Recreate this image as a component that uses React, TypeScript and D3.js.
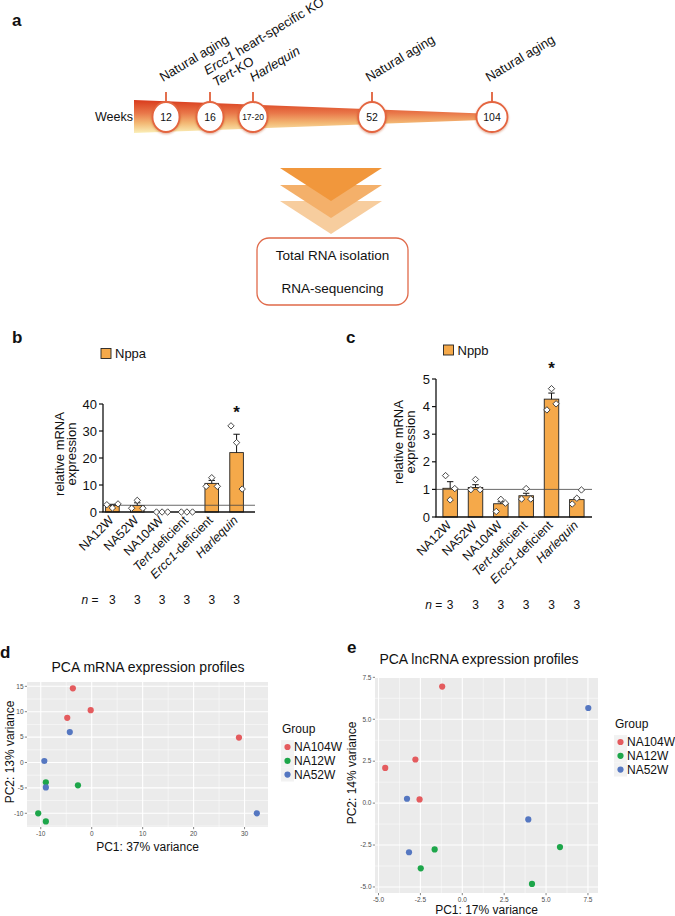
import React from 'react';
import * as d3 from 'd3';

const FONT = "'Liberation Sans', Arial, Helvetica, sans-serif";

// ---------------- Panel a (timeline schematic) ----------------
const weekLabels = ['12', '16', '17-20', '52', '104'];
// each annotation line: [italic part, roman part]
const eventLines: [string, string][][] = [
  [['', 'Natural aging']],
  [['Ercc1', ' heart-specific KO'], ['Tert', '-KO']],
  [['Harlequin', '']],
  [['', 'Natural aging']],
  [['', 'Natural aging']],
];
const workflowSteps = ['Total RNA isolation', 'RNA-sequencing'];

// ---------------- Panels b, c (bar charts) ----------------
const barCategories = ['NA12W', 'NA52W', 'NA104W', 'Tert-deficient', 'Ercc1-deficient', 'Harlequin'];
const italicNames = ['Tert', 'Ercc1', 'Harlequin'];
const sampleSizes = [3, 3, 3, 3, 3, 3];

const nppaMeans = [2.4, 2.4, 0, 0, 10.6, 22.0];
const nppaSems = [0.45, 1.0, 0, 0, 1.1, 6.8];
const nppaPoints = [
  [2.7, 1.5, 3.0],
  [1.4, 4.3, 1.4],
  [0, 0, 0],
  [0, 0, 0],
  [9.5, 12.7, 9.5],
  [31.9, 25.7, 8.5],
];
const nppaTicks = [0, 10, 20, 30, 40];
const nppaRef = 2.5;

const nppbMeans = [1.04, 1.07, 0.48, 0.77, 4.27, 0.63];
const nppbSems = [0.24, 0.1, 0.07, 0.09, 0.22, 0.06];
const nppbPoints = [
  [1.5, 0.62, 1.03],
  [0.99, 1.36, 0.99],
  [0.2, 0.64, 0.5],
  [0.65, 1.03, 0.65],
  [3.88, 4.65, 4.1],
  [0.47, 0.68, 0.98],
];
const nppbTicks = [0, 1, 2, 3, 4, 5];
const nppbRef = 1.0;

// ---------------- Panels d, e (PCA) ----------------
const groups = ['NA104W', 'NA12W', 'NA52W'];
const groupColors = ['#E45B5E', '#1DA64A', '#5577C1'];

const mrnaNA104W = [[-3.7, 14.6], [-4.8, 8.8], [-0.2, 10.3], [28.9, 4.9]];
const mrnaNA12W = [[-9.0, -3.9], [-2.7, -4.5], [-10.5, -10.0], [-9.0, -11.6]];
const mrnaNA52W = [[-4.3, 6.0], [-9.3, 0.3], [-9.0, -4.9], [32.4, -10.0]];
const mrnaXTicks = [-10, 0, 10, 20, 30];
const mrnaYTicks = [-10, -5, 0, 5, 10, 15];

const lncNA104W = [[-1.2, 6.95], [-2.8, 2.6], [-4.6, 2.1], [-2.55, 0.22]];
const lncNA12W = [[-1.65, -2.76], [-2.48, -3.89], [5.83, -2.62], [4.16, -4.82]];
const lncNA52W = [[7.52, 5.67], [-3.3, 0.26], [-3.18, -2.93], [3.94, -0.97]];
const lncXTicks = [-5, -2.5, 0, 2.5, 5, 7.5];
const lncYTicks = [-5, -2.5, 0, 2.5, 5, 7.5];

const BAR_FILL = '#F5A94A';

function CatLabel({ name }: { name: string }) {
  const it = italicNames.find((p) => name.startsWith(p));
  if (!it) return <>{name}</>;
  return (
    <>
      <tspan fontStyle="italic">{it}</tspan>
      {name.slice(it.length)}
    </>
  );
}

type BarProps = {
  means: number[]; sems: number[]; pts: number[][]; ticks: number[]; refValue: number;
  legend: string; axisX: number; axisEnd: number; y0: number; yTop: number;
  bandStart: number; bandEnd: number; barW: number; jitter: number;
  legendX: number; legendY: number; starIndex: number; starY: number;
  nGap: number; nY: number; ylabX1: number; ylabX2: number; ylabY: number;
};

function BarChart(p: BarProps) {
  const x = d3.scalePoint<string>().domain(barCategories).range([p.bandStart, p.bandEnd]).padding(0.5);
  const yMax = p.ticks[p.ticks.length - 1];
  const y = d3.scaleLinear().domain([0, yMax]).range([p.y0, p.yTop]);
  const offs = [-p.jitter, 0, p.jitter];
  const r = 3.2;
  const diamond = (cx: number, cy: number) =>
    `M${cx},${cy - r}L${cx + r},${cy}L${cx},${cy + r}L${cx - r},${cy}Z`;
  return (
    <g fontFamily={FONT}>
      {/* legend */}
      <rect x={p.legendX} y={p.legendY} width={10} height={10} fill={BAR_FILL} stroke="#222" strokeWidth={0.9} />
      <text x={p.legendX + 14} y={p.legendY + 9.5} fontSize={13} fill="#111">{p.legend}</text>
      {/* y label */}
      <text transform={`translate(${p.ylabX1},${p.ylabY}) rotate(-90)`} textAnchor="middle" fontSize={13} fill="#111">relative mRNA</text>
      <text transform={`translate(${p.ylabX2},${p.ylabY}) rotate(-90)`} textAnchor="middle" fontSize={13} fill="#111">expression</text>
      {/* bars */}
      {barCategories.map((c, i) => {
        const cx = x(c)!;
        const m = p.means[i];
        if (m <= 0) return null;
        return (
          <rect key={c} x={cx - p.barW / 2} y={y(m)} width={p.barW} height={p.y0 - y(m)}
            fill={BAR_FILL} stroke="#222" strokeWidth={0.9} />
        );
      })}
      {/* error bars */}
      {barCategories.map((c, i) => {
        const cx = x(c)!;
        const m = p.means[i];
        const s = p.sems[i];
        if (s <= 0) return null;
        return (
          <g key={c} stroke="#111" strokeWidth={1}>
            <line x1={cx} x2={cx} y1={y(m)} y2={y(m + s)} />
            <line x1={cx - 3.2} x2={cx + 3.2} y1={y(m + s)} y2={y(m + s)} />
          </g>
        );
      })}
      {/* reference line */}
      <line x1={p.axisX} x2={p.axisEnd} y1={y(p.refValue)} y2={y(p.refValue)} stroke="#444" strokeWidth={0.8} />
      {/* axes */}
      <line x1={p.axisX} x2={p.axisX} y1={p.yTop} y2={p.y0} stroke="#111" strokeWidth={1.3} />
      <line x1={p.axisX - 0.6} x2={p.axisEnd} y1={p.y0} y2={p.y0} stroke="#111" strokeWidth={1.5} />
      {p.ticks.map((t) => (
        <g key={t}>
          <line x1={p.axisX - 4} x2={p.axisX} y1={y(t)} y2={y(t)} stroke="#111" strokeWidth={1.2} />
          <text x={p.axisX - 6} y={y(t)} dy="0.36em" textAnchor="end" fontSize={13} fill="#111">{t}</text>
        </g>
      ))}
      {/* points */}
      {barCategories.map((c, i) => (
        <g key={c}>
          {p.pts[i].map((v, j) => (
            <path key={j} d={diamond(x(c)! + offs[j], y(v))} fill="#fff" stroke="#333" strokeWidth={0.9} />
          ))}
        </g>
      ))}
      {/* star */}
      <text x={x(barCategories[p.starIndex])!} y={p.starY} textAnchor="middle" fontSize={17} fontWeight="bold" fill="#111">*</text>
      {/* x labels */}
      {barCategories.map((c) => (
        <text key={c} transform={`translate(${x(c)! + 2},${p.y0 + 9}) rotate(-45)`} textAnchor="end"
          fontSize={12.5} fill="#111">
          <CatLabel name={c} />
        </text>
      ))}
      {/* n row */}
      <text x={x(barCategories[0])! - p.nGap} y={p.nY} textAnchor="end" fontSize={12} fill="#111"><tspan fontStyle="italic">n</tspan> =</text>
      {barCategories.map((c, i) => (
        <text key={c} x={x(c)!} y={p.nY} textAnchor="middle" fontSize={12} fill="#111">{sampleSizes[i]}</text>
      ))}
    </g>
  );
}

type PcaProps = {
  title: string; xLabel: string; yLabel: string;
  xDomain: [number, number]; yDomain: [number, number];
  left: number; right: number; top: number; bottom: number;
  xTicks: number[]; yTicks: number[]; fmt: (v: number) => string;
  series: number[][][]; titleX: number; titleY: number; xlabY: number;
  ylabX: number; ylabY: number; legX: number; legY: number;
};

function Pca(p: PcaProps) {
  const x = d3.scaleLinear().domain(p.xDomain).range([p.left, p.right]);
  const y = d3.scaleLinear().domain(p.yDomain).range([p.bottom, p.top]);
  const minor = (ticks: number[], dom: [number, number]) => {
    const step = ticks[1] - ticks[0];
    const out: number[] = [];
    for (let v = ticks[0] - step / 2; v <= dom[1]; v += step) if (v >= dom[0]) out.push(v);
    return out;
  };
  const xm = minor(p.xTicks, p.xDomain);
  const ym = minor(p.yTicks, p.yDomain);
  return (
    <g fontFamily={FONT}>
      <text x={p.titleX} y={p.titleY} textAnchor="middle" fontSize={14} fill="#111">{p.title}</text>
      <rect x={p.left} y={p.top} width={p.right - p.left} height={p.bottom - p.top} fill="#EBEBEB" />
      {xm.map((v) => <line key={'xm' + v} x1={x(v)} x2={x(v)} y1={p.top} y2={p.bottom} stroke="#fff" strokeWidth={0.5} />)}
      {ym.map((v) => <line key={'ym' + v} x1={p.left} x2={p.right} y1={y(v)} y2={y(v)} stroke="#fff" strokeWidth={0.5} />)}
      {p.xTicks.map((v) => <line key={'xM' + v} x1={x(v)} x2={x(v)} y1={p.top} y2={p.bottom} stroke="#fff" strokeWidth={1.1} />)}
      {p.yTicks.map((v) => <line key={'yM' + v} x1={p.left} x2={p.right} y1={y(v)} y2={y(v)} stroke="#fff" strokeWidth={1.1} />)}
      {p.series.map((pts, gi) =>
        pts.map((d, k) => <circle key={gi + '-' + k} cx={x(d[0])} cy={y(d[1])} r={3.1} fill={groupColors[gi]} />)
      )}
      {p.xTicks.map((v) => (
        <g key={'xt' + v}>
          <line x1={x(v)} x2={x(v)} y1={p.bottom} y2={p.bottom + 2.2} stroke="#333" strokeWidth={0.6} />
          <text x={x(v)} y={p.bottom + 8.5} textAnchor="middle" fontSize={6.5} fill="#4D4D4D">{p.fmt(v)}</text>
        </g>
      ))}
      {p.yTicks.map((v) => (
        <g key={'yt' + v}>
          <line x1={p.left - 2.2} x2={p.left} y1={y(v)} y2={y(v)} stroke="#333" strokeWidth={0.6} />
          <text x={p.left - 3.5} y={y(v)} dy="0.35em" textAnchor="end" fontSize={6.5} fill="#4D4D4D">{p.fmt(v)}</text>
        </g>
      ))}
      <text x={(p.left + p.right) / 2} y={p.xlabY} textAnchor="middle" fontSize={12} fill="#111">{p.xLabel}</text>
      <text transform={`translate(${p.ylabX},${p.ylabY}) rotate(-90)`} textAnchor="middle" fontSize={12} fill="#111">{p.yLabel}</text>
      {/* legend */}
      <text x={p.legX} y={p.legY} fontSize={12} fill="#111">Group</text>
      {groups.map((g, i) => {
        const cy = p.legY + 14 + i * 13.8;
        return (
          <g key={g}>
            <rect x={p.legX - 1} y={cy - 6.9} width={13} height={13.8} fill="#F2F2F2" />
            <circle cx={p.legX + 5.5} cy={cy} r={3.1} fill={groupColors[i]} />
            <text x={p.legX + 12} y={cy} dy="0.36em" fontSize={12} fill="#111">{g}</text>
          </g>
        );
      })}
    </g>
  );
}

export default function App() {
  React.useEffect(() => {
    document.body.style.margin = '0';
  }, []);

  // timeline layout (schematic positions)
  const circleX = [166, 210, 253, 372, 492];
  const circleRx = [13.5, 13.5, 14.5, 13.8, 15.5];
  const labelOff = [[-3, 82], [6, 87], [0, 82], [-3, 82], [-3, 82]];

  const fmt1 = (v: number) => v.toFixed(1);
  const fmt0 = (v: number) => String(v);

  return (
    <svg width={675} height={916} style={{ position: 'absolute', left: 0, top: 0, background: '#fff' }} fontFamily={FONT}>
      <defs>
        <linearGradient id="wedgeGrad" gradientUnits="userSpaceOnUse" x1="0" y1="100" x2="0" y2="133">
          <stop offset="0" stopColor="#D93A1C" />
          <stop offset="0.4" stopColor="#E9784A" />
          <stop offset="0.7" stopColor="#F3B874" />
          <stop offset="1" stopColor="#FAEFB8" />
        </linearGradient>
        <filter id="cshadow" x="-50%" y="-50%" width="200%" height="200%">
          <feDropShadow dx="0" dy="1" stdDeviation="1.3" floodColor="#B8421E" floodOpacity="0.45" />
        </filter>
      </defs>

      {/* panel labels */}
      <text x={12} y={26} fontSize={17} fontWeight="bold" fill="#111">a</text>
      <text x={12} y={343} fontSize={17} fontWeight="bold" fill="#111">b</text>
      <text x={346} y={343} fontSize={17} fontWeight="bold" fill="#111">c</text>
      <text x={0} y={658} fontSize={17} fontWeight="bold" fill="#111">d</text>
      <text x={347} y={653} fontSize={17} fontWeight="bold" fill="#111">e</text>

      {/* ---------- panel a ---------- */}
      <text x={133} y={120.5} textAnchor="end" fontSize={12.5} fill="#111">Weeks</text>
      <path d="M134,100 L482,113.5 L482,120 L134,133 Z" fill="url(#wedgeGrad)" />
      {weekLabels.map((w, i) => (
        <g key={w}>
          <line x1={circleX[i]} x2={circleX[i]} y1={92} y2={103} stroke="#E0603A" strokeWidth={1.8} />
          <ellipse cx={circleX[i]} cy={117} rx={circleRx[i]} ry={15} fill="#fff" stroke="#E4653F" strokeWidth={1.8} filter="url(#cshadow)" />
          <text x={circleX[i]} y={117} dy="0.36em" textAnchor="middle" fontSize={w.length > 3 ? 8.5 : 10.5} fill="#111">{w}</text>
          <g transform={`translate(${circleX[i] + labelOff[i][0]},${labelOff[i][1]}) rotate(-31)`}>
            {eventLines[i].map((ln, k) => (
              <text key={k} x={(k - (eventLines[i].length - 1)) * 1.5} y={(k - (eventLines[i].length - 1)) * 14.6} fontSize={13.1} fill="#111">
                {ln[0] && <tspan fontStyle="italic">{ln[0]}</tspan>}
                {ln[1]}
              </text>
            ))}
          </g>
        </g>
      ))}
      {/* chevrons */}
      <path d="M280,201 L382,201 L331,234 Z" fill="#F7CD9E" />
      <path d="M280,185 L382,185 L331,218 Z" fill="#F4B06A" />
      <path d="M280,168 L382,168 L331,201 Z" fill="#F1973C" />
      {/* box */}
      <rect x={257} y={238} width={151} height={67} rx={12} fill="#fff" stroke="#E06A4A" strokeWidth={1.3} />
      {workflowSteps.map((s, i) => (
        <text key={s} x={332.5} y={259.5 + i * 33.5} textAnchor="middle" fontSize={13.5} fill="#111">{s}</text>
      ))}

      {/* ---------- panel b ---------- */}
      <BarChart means={nppaMeans} sems={nppaSems} pts={nppaPoints} ticks={nppaTicks} refValue={nppaRef}
        legend="Nppa" axisX={103} axisEnd={255} y0={512} yTop={404}
        bandStart={100} bandEnd={249} barW={13.6} jitter={5.6}
        legendX={101} legendY={348.5} starIndex={5} starY={418}
        nGap={14} nY={604} ylabX1={64} ylabX2={76} ylabY={454} />

      {/* ---------- panel c ---------- */}
      <BarChart means={nppbMeans} sems={nppbSems} pts={nppbPoints} ticks={nppbTicks} refValue={nppbRef}
        legend="Nppb" axisX={436} axisEnd={592} y0={517} yTop={379}
        bandStart={437.5} bandEnd={589.5} barW={14.5} jitter={4.6}
        legendX={443.5} legendY={345} starIndex={4} starY={374}
        nGap={8} nY={609} ylabX1={403} ylabX2={415} ylabY={442} />

      {/* ---------- panel d ---------- */}
      <Pca title="PCA mRNA expression profiles" xLabel="PC1: 37% variance" yLabel="PC2: 13% variance"
        xDomain={[-12.7, 34.6]} yDomain={[-12.7, 15.85]} left={27} right={268} top={682} bottom={827}
        xTicks={mrnaXTicks} yTicks={mrnaYTicks} fmt={fmt0}
        series={[mrnaNA104W, mrnaNA12W, mrnaNA52W]} titleX={148} titleY={672} xlabY={851}
        ylabX={14} ylabY={752} legX={282} legY={733} />

      {/* ---------- panel e ---------- */}
      <Pca title="PCA lncRNA expression profiles" xLabel="PC1: 17% variance" yLabel="PC2: 14% variance"
        xDomain={[-5.21, 8.1]} yDomain={[-5.36, 7.52]} left={375} right={598} top={677} bottom={893}
        xTicks={lncXTicks} yTicks={lncYTicks} fmt={fmt1}
        series={[lncNA104W, lncNA12W, lncNA52W]} titleX={479} titleY={664} xlabY={913.5}
        ylabX={356} ylabY={773} legX={615} legY={728} />
    </svg>
  );
}
